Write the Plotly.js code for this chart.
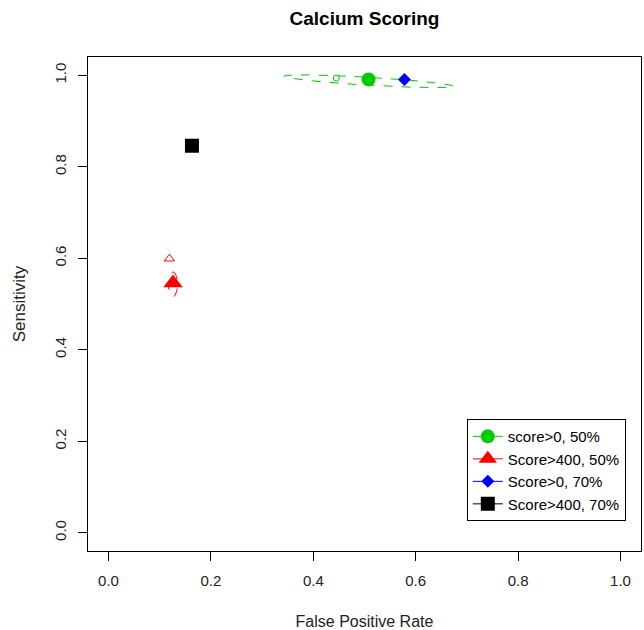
<!DOCTYPE html>
<html>
<head>
<meta charset="utf-8">
<script src="https://cdn.plot.ly/plotly-3.0.1.min.js"></script>
<style>html,body{margin:0;padding:0;background:#fff;}#chart{width:644px;height:630px;}</style>
</head>
<body>
<div id="chart"></div>
<script>
// Main summary points
const seriesNames = ["score>0, 50%", "Score>400, 50%", "Score>0, 70%", "Score>400, 70%"];
const fpr = [0.508, 0.126, 0.578, 0.163];
const sens = [0.991, 0.546, 0.991, 0.846];
const colors = ["#00cc00", "#ff0000", "#0000ff", "#000000"];
const symbols = ["circle", "triangle-up", "diamond", "square"];
const sizes = [14, 17, 10, 14];

// Secondary (open) points
const openFpr = [0.445, 0.119];
const openSens = [0.994, 0.599];
const openColors = ["#00cc00", "#ff0000"];
const openSymbols = ["circle-open", "triangle-up-open"];
const openSizes = [6, 9];

// Confidence ellipses: centre, major half-axis vector, minor half-axis vector (data units)
const ellCx = [0.508, 0.126];
const ellCy = [0.987, 0.543];
const ellMajX = [0.165, 0.0];
const ellMajY = [-0.011, 0.027];
const ellMinX = [0.0, 0.0088];
const ellMinY = [0.0087, 0.0];
const ellColors = ["#00cc00", "#ff0000"];

const font = "Liberation Sans, Arial, sans-serif";
const traces = [];

for (let e = 0; e < ellCx.length; e++) {
  const xs = [], ys = [];
  const n = 120;
  for (let i = 0; i <= n; i++) {
    const t = 2 * Math.PI * i / n;
    xs.push(ellCx[e] + ellMajX[e] * Math.cos(t) + ellMinX[e] * Math.sin(t));
    ys.push(ellCy[e] + ellMajY[e] * Math.cos(t) + ellMinY[e] * Math.sin(t));
  }
  traces.push({x: xs, y: ys, mode: "lines", line: {color: ellColors[e], width: 1, dash: "dash"},
    showlegend: false, hoverinfo: "skip"});
}

for (let i = 0; i < openFpr.length; i++) {
  traces.push({x: [openFpr[i]], y: [openSens[i]], mode: "markers",
    marker: {symbol: openSymbols[i], size: openSizes[i], color: openColors[i], line: {width: 1, color: openColors[i]}},
    showlegend: false});
}

for (let i = 0; i < seriesNames.length; i++) {
  traces.push({x: [fpr[i]], y: [sens[i]], name: seriesNames[i], mode: "lines+markers",
    line: {color: colors[i], width: 1},
    marker: {symbol: symbols[i], size: sizes[i], color: colors[i], line: {width: 0}}});
}

const layout = {
  width: 644, height: 630,
  margin: {l: 88, r: 3, t: 57, b: 79},
  paper_bgcolor: "#fff", plot_bgcolor: "#fff",
  font: {family: font, size: 14, color: "#000"},
  title: {text: "<b>Calcium Scoring</b>", font: {family: font, size: 19, color: "#000"},
    x: 0.566, xanchor: "center", y: 0.971, yanchor: "middle"},
  xaxis: {range: [-0.04, 1.04], tickvals: [0, 0.2, 0.4, 0.6, 0.8, 1.0], ticktext: ["0.0","0.2","0.4","0.6","0.8","1.0"],
    showgrid: false, zeroline: false, showline: true, mirror: true, linecolor: "#000", linewidth: 1,
    ticks: "outside", ticklen: 9, tickcolor: "#000", tickfont: {size: 15, color: "#222"}, ticklabelstandoff: 7,
    title: {text: "False Positive Rate", font: {size: 16, color: "#222"}, standoff: 28}},
  yaxis: {range: [-0.04, 1.04], tickvals: [0, 0.2, 0.4, 0.6, 0.8, 1.0], ticktext: ["0.0","0.2","0.4","0.6","0.8","1.0"],
    showgrid: false, zeroline: false, showline: true, mirror: true, linecolor: "#000", linewidth: 1,
    ticks: "outside", ticklen: 9, tickcolor: "#000", tickangle: -90, tickfont: {size: 15, color: "#222"}, ticklabelstandoff: 6,
    title: {text: "Sensitivity", font: {size: 17, color: "#222"}, standoff: 22}},
  legend: {x: 0.685, y: 0.267, xanchor: "left", yanchor: "top", bgcolor: "#fff",
    bordercolor: "#000", borderwidth: 1, font: {size: 15, color: "#000"}, tracegroupgap: 0, itemwidth: 30},
  showlegend: true
};

Plotly.newPlot("chart", traces, layout, {staticPlot: true});
</script>
</body>
</html>
